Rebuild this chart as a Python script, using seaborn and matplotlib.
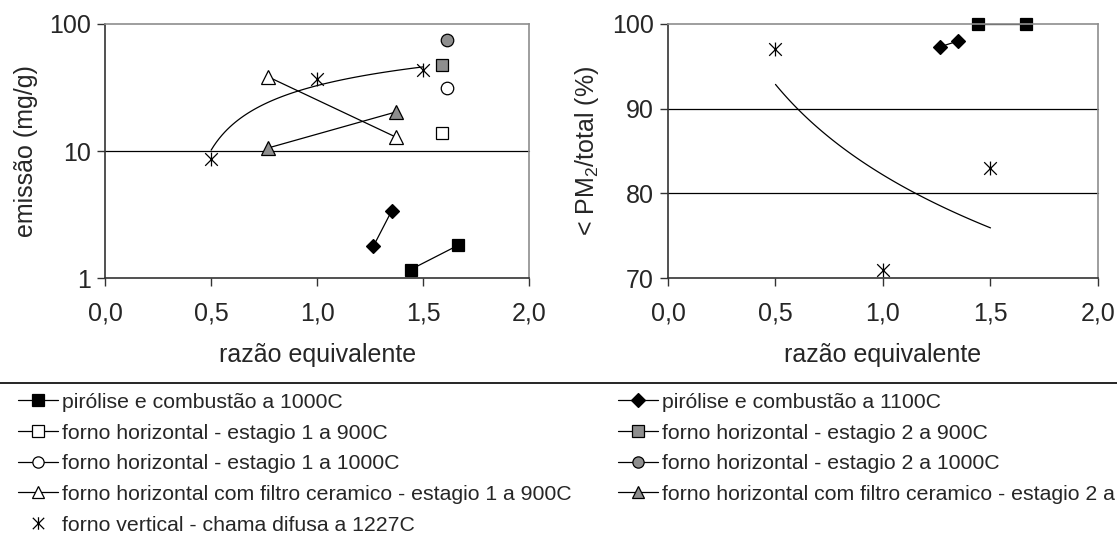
import numpy as np
import matplotlib
matplotlib.use('Agg')
import matplotlib.pyplot as plt
from matplotlib.lines import Line2D
from matplotlib.path import Path
import seaborn as sns

# emissao (mg/g) vs razao equivalente
sq1000_x = [1.44, 1.665]
sq1000_emis = [1.17, 1.82]
sq1000_pm = [100.0, 100.0]
dia1100_x = [1.265, 1.35]
dia1100_emis = [1.79, 3.37]
dia1100_pm = [97.3, 98.0]
est1_900_x = [1.59]
est1_900_emis = [13.9]
est2_900_x = [1.59]
est2_900_emis = [47.5]
est1_1000_x = [1.61]
est1_1000_emis = [31.3]
est2_1000_x = [1.61]
est2_1000_emis = [74.8]
filtro1_x = [0.77, 1.37]
filtro1_emis = [38.3, 12.9]
filtro2_x = [0.77, 1.37]
filtro2_emis = [10.6, 20.3]
vert_x = [0.5, 1.0, 1.5]
vert_emis = [8.65, 36.9, 43.4]
vert_pm = [97.0, 71.0, 83.0]

labels = ['pirólise e combustão a 1000C',
          'forno horizontal - estagio 1 a 900C',
          'forno horizontal - estagio 1 a 1000C',
          'forno horizontal com filtro ceramico - estagio 1 a 900C',
          'forno vertical - chama difusa a 1227C',
          'pirólise e combustão a 1100C',
          'forno horizontal - estagio 2 a 900C',
          'forno horizontal - estagio 2 a 1000C',
          'forno horizontal com filtro ceramico - estagio 2 a 900C']
xticks = [0.0, 0.5, 1.0, 1.5, 2.0]
xtick_labels = ['0,0', '0,5', '1,0', '1,5', '2,0']

sns.set_theme(style='white')
plt.rcParams['font.family'] = ['Liberation Sans', 'DejaVu Sans']
plt.rcParams['mathtext.fontset'] = 'custom'
plt.rcParams['mathtext.rm'] = 'Liberation Sans'

GRAY = '#8e8e8e'
star = Path([(-1, -1), (1, 1), (-1, 1), (1, -1), (0, -1.1), (0, 1.1)],
            [Path.MOVETO, Path.LINETO, Path.MOVETO, Path.LINETO, Path.MOVETO, Path.LINETO])

styles = {
    'sq1000': dict(marker='s', markersize=9, markerfacecolor='black'),
    'est1_900': dict(marker='s', markersize=9, markerfacecolor='white'),
    'est1_1000': dict(marker='o', markersize=9, markerfacecolor='white'),
    'filtro1': dict(marker='^', markersize=9.5, markerfacecolor='white'),
    'vert': dict(marker=star, markersize=10, markerfacecolor='none'),
    'dia1100': dict(marker='D', markersize=7.5, markerfacecolor='black'),
    'est2_900': dict(marker='s', markersize=9, markerfacecolor=GRAY),
    'est2_1000': dict(marker='o', markersize=9, markerfacecolor=GRAY),
    'filtro2': dict(marker='^', markersize=9.5, markerfacecolor=GRAY),
}

fig = plt.figure(figsize=(11.17, 5.33), dpi=100)
ax1 = fig.add_axes([0.094, 0.478, 0.380, 0.477])
ax2 = fig.add_axes([0.598, 0.478, 0.385, 0.477])


def draw(ax, x, y, key, line=True):
    st = styles[key]
    sns.lineplot(x=x, y=y, ax=ax, color='black', lw=0.9 if line else 0,
                 markeredgecolor='black', markeredgewidth=0.9,
                 sort=False, estimator=None, **st)


# left panel
draw(ax1, sq1000_x, sq1000_emis, 'sq1000')
draw(ax1, dia1100_x, dia1100_emis, 'dia1100')
draw(ax1, est1_900_x, est1_900_emis, 'est1_900')
draw(ax1, est2_900_x, est2_900_emis, 'est2_900')
draw(ax1, est1_1000_x, est1_1000_emis, 'est1_1000')
draw(ax1, est2_1000_x, est2_1000_emis, 'est2_1000')
draw(ax1, filtro1_x, filtro1_emis, 'filtro1')
draw(ax1, filtro2_x, filtro2_emis, 'filtro2')
draw(ax1, vert_x, vert_emis, 'vert', line=False)
# logarithmic trendline
a, b = np.polyfit(np.log(vert_x), vert_emis, 1)
xs = np.linspace(min(vert_x), max(vert_x), 80)
ax1.plot(xs, a * np.log(xs) + b, color='black', lw=0.9)
ax1.set_yscale('log')
ax1.set_ylim(1, 100)
ax1.set_yticks([1, 10, 100])
ax1.set_yticklabels(['1', '10', '100'])
ax1.minorticks_off()
ax1.axhline(10, color='black', lw=0.9, zorder=0)
ax1.set_ylabel('emissão (mg/g)', fontsize=18, labelpad=8)

# right panel
draw(ax2, vert_x, vert_pm, 'vert', line=False)
draw(ax2, dia1100_x, dia1100_pm, 'dia1100')
draw(ax2, sq1000_x, sq1000_pm, 'sq1000')
a2, b2 = np.polyfit(np.log(vert_x), vert_pm, 1)
ax2.plot(xs, a2 * np.log(xs) + b2, color='black', lw=0.9)
ax2.set_ylim(70, 100)
ax2.set_yticks([70, 80, 90, 100])
for v in [80, 90]:
    ax2.axhline(v, color='black', lw=0.9, zorder=0)
ax2.set_ylabel(r'< PM$_\mathregular{2}$/total (%)', fontsize=18, labelpad=8)

for ax in (ax1, ax2):
    ax.set_xlim(0, 2.0)
    ax.set_xticks(xticks)
    ax.set_xticklabels(xtick_labels)
    ax.set_xlabel('razão equivalente', fontsize=18, labelpad=12)
    ax.tick_params(axis='both', labelsize=18, direction='out', length=6,
                   width=1, color='#333333', bottom=True, left=True, pad=4)
    ax.tick_params(axis='x', pad=11)
    for s in ['top', 'right']:
        ax.spines[s].set_color(GRAY)
        ax.spines[s].set_linewidth(1.2)
    for s in ['left', 'bottom']:
        ax.spines[s].set_color('#333333')
        ax.spines[s].set_linewidth(1.2)
    for ln in ax.lines:
        ln.set_clip_on(False)

# legend
order = ['sq1000', 'est1_900', 'est1_1000', 'filtro1', 'vert',
         'dia1100', 'est2_900', 'est2_1000', 'filtro2']
handles = []
for k in order:
    st = dict(styles[k])
    st['markersize'] = st['markersize'] * 0.9
    handles.append(Line2D([], [], color='black', lw=0 if k == 'vert' else 0.9,
                          markeredgecolor='black', markeredgewidth=0.9, **st))
fig.legend(handles, labels, loc='upper left', bbox_to_anchor=(0.016, 0.263),
           ncol=2, frameon=False, fontsize=15.3, handlelength=1.9,
           handletextpad=0.2, labelspacing=0.55, columnspacing=2.15,
           borderpad=0, borderaxespad=0)
fig.add_artist(Line2D([0, 1], [0.281, 0.281], color='black', lw=1.2,
                      transform=fig.transFigure))

fig.savefig('out.png', dpi=100)
